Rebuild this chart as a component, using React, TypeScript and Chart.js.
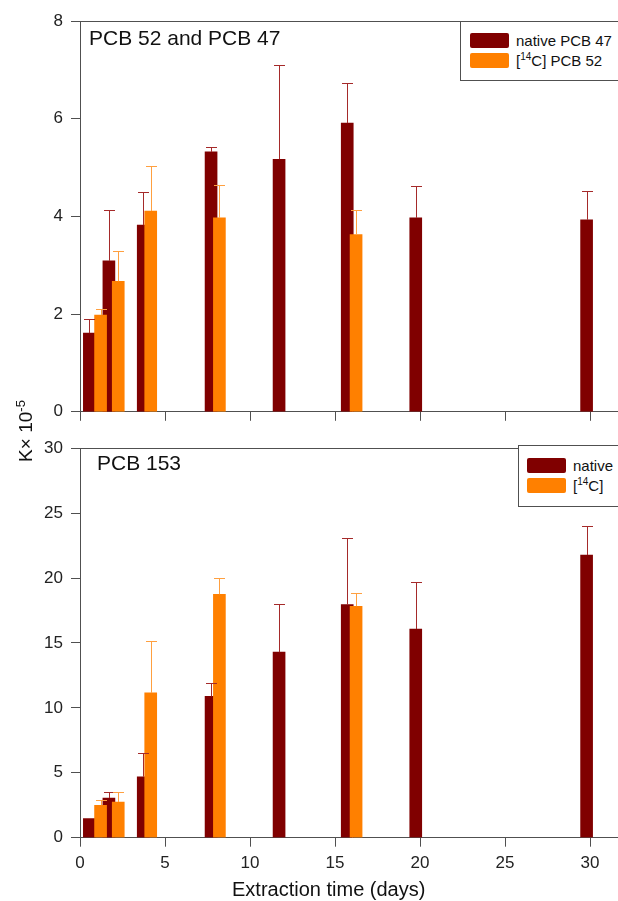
import React, { useEffect, useRef } from "react";
import { Chart, registerables } from "chart.js";

Chart.register(...registerables);

// ---- Data (days, K x 10^-5) ----
const nativeDays = [0.55, 1.7, 3.72, 7.71, 11.71, 15.72, 19.75, 29.8];
const labeledDays = [1.21, 2.25, 4.16, 8.2, 16.24];

const pcb47Native = [1.61, 3.09, 3.82, 5.32, 5.17, 5.91, 3.97, 3.93];
const pcb47NativeErr = [0.29, 1.04, 0.68, 0.1, 1.92, 0.82, 0.65, 0.58];
const pcb52Labeled = [1.98, 2.67, 4.11, 3.97, 3.63];
const pcb52LabeledErr = [0.13, 0.62, 0.93, 0.68, 0.5];

const pcb153Native = [1.48, 3.06, 4.69, 10.88, 14.29, 17.95, 16.07, 21.77];
const pcb153NativeErr = [0, 0.45, 1.86, 1.04, 3.69, 5.17, 3.62, 2.22];
const pcb153Labeled = [2.5, 2.75, 11.15, 18.75, 17.83];
const pcb153LabeledErr = [0.43, 0.76, 3.98, 1.24, 1.02];

const xTickStep = 5;
const topYMax = 8;
const topYStep = 2;
const botYMax = 30;
const botYStep = 5;

const DARK = "#800000";
const ORANGE = "#ff8000";
const DARK_ERR = "#a52a2a";
const ORANGE_ERR = "#ffa040";
const AXIS = "#505050";
const FONT = "Arial, 'Liberation Sans', sans-serif";

const toPoints = (xs: number[], ys: number[]) => xs.map((x, i) => ({ x, y: ys[i] }));

const errorBarPlugin = {
  id: "errorBars",
  afterDatasetsDraw(chart: any) {
    const ctx = chart.ctx;
    const yScale = chart.scales.y;
    chart.data.datasets.forEach((ds: any, di: number) => {
      const meta = chart.getDatasetMeta(di);
      if (!ds.errors) return;
      ctx.save();
      ctx.strokeStyle = ds.errorColor;
      ctx.lineWidth = 1;
      meta.data.forEach((el: any, i: number) => {
        const err = ds.errors[i];
        if (!err) return;
        const v = ds.data[i].y;
        const yTop = yScale.getPixelForValue(v + err);
        const x = Math.round(el.x) + 0.5;
        ctx.beginPath();
        ctx.moveTo(x, el.y);
        ctx.lineTo(x, Math.round(yTop) + 0.5);
        ctx.moveTo(x - 5.5, Math.round(yTop) + 0.5);
        ctx.lineTo(x + 5.5, Math.round(yTop) + 0.5);
        ctx.stroke();
      });
      ctx.restore();
    });
  },
};

const framePlugin = {
  id: "frameTop",
  afterDraw(chart: any) {
    const { ctx, chartArea } = chart;
    ctx.save();
    ctx.strokeStyle = AXIS;
    ctx.lineWidth = 1;
    ctx.beginPath();
    const y = Math.round(chartArea.top) + 0.5;
    ctx.moveTo(chartArea.left, y);
    ctx.lineTo(chartArea.right, y);
    ctx.lineTo(chartArea.right, chartArea.bottom);
    ctx.stroke();
    ctx.restore();
  },
};

function makeChart(
  canvas: HTMLCanvasElement,
  nat: number[],
  natErr: number[],
  lab: number[],
  labErr: number[],
  yMax: number,
  yStep: number,
  padTop: number,
  xAxisHeight: number,
  showXLabels: boolean
) {
  return new Chart(canvas, {
    type: "bar",
    data: {
      datasets: [
        {
          label: "native",
          data: toPoints(nativeDays, nat),
          backgroundColor: DARK,
          borderWidth: 0,
          order: 1,
          errors: natErr,
          errorColor: DARK_ERR,
        } as any,
        {
          label: "[14C]",
          data: toPoints(labeledDays, lab),
          backgroundColor: ORANGE,
          borderWidth: 0,
          order: 0,
          errors: labErr,
          errorColor: ORANGE_ERR,
        } as any,
      ],
    },
    options: {
      animation: false,
      responsive: false,
      devicePixelRatio: 1,
      layout: { padding: { top: padTop, right: 16, left: 0, bottom: 0 } },
      plugins: { legend: { display: false }, tooltip: { enabled: false } },
      datasets: { bar: { grouped: false, barThickness: 12 } } as any,
      scales: {
        x: {
          type: "linear",
          min: 0,
          max: 32,
          offset: false,
          ticks: {
            stepSize: xTickStep,
            includeBounds: false,
            display: showXLabels,
            color: "#222",
            font: { size: 17, family: FONT },
            padding: 6,
            maxRotation: 0,
          },
          grid: {
            display: true,
            offset: false,
            drawOnChartArea: false,
            drawTicks: true,
            tickLength: 9,
            color: AXIS,
            lineWidth: 1,
          },
          border: { display: true, color: AXIS, width: 1 },
          afterFit: (s: any) => {
            s.height = xAxisHeight;
          },
        } as any,
        y: {
          type: "linear",
          min: 0,
          max: yMax,
          ticks: {
            stepSize: yStep,
            color: "#222",
            font: { size: 17, family: FONT },
            padding: 8,
          },
          grid: {
            display: true,
            drawOnChartArea: false,
            drawTicks: true,
            tickLength: 9,
            color: AXIS,
            lineWidth: 1,
          },
          border: { display: true, color: AXIS, width: 1 },
          afterFit: (s: any) => {
            s.width = 80;
          },
        } as any,
      },
    },
    plugins: [errorBarPlugin, framePlugin],
  } as any);
}

const swatch = (left: number, top: number, color: string): React.CSSProperties => ({
  position: "absolute",
  left,
  top,
  width: 39,
  height: 15,
  background: color,
  borderRadius: 2,
});

const legendText = (left: number, centerY: number): React.CSSProperties => ({
  position: "absolute",
  left,
  top: centerY - 9,
  height: 18,
  lineHeight: "18px",
  fontSize: 15,
  whiteSpace: "nowrap",
  color: "#111",
});

const supStyle: React.CSSProperties = { fontSize: 10, verticalAlign: "super", lineHeight: 0 };

export default function App() {
  const topRef = useRef<HTMLCanvasElement>(null);
  const botRef = useRef<HTMLCanvasElement>(null);

  useEffect(() => {
    const c1 = makeChart(
      topRef.current!,
      pcb47Native,
      pcb47NativeErr,
      pcb52Labeled,
      pcb52LabeledErr,
      topYMax,
      topYStep,
      21,
      16.7,
      false
    );
    const c2 = makeChart(
      botRef.current!,
      pcb153Native,
      pcb153NativeErr,
      pcb153Labeled,
      pcb153LabeledErr,
      botYMax,
      botYStep,
      15,
      63.3,
      true
    );
    return () => {
      c1.destroy();
      c2.destroy();
    };
  }, []);

  return (
    <div
      style={{
        position: "absolute",
        left: 0,
        top: 0,
        width: 618,
        height: 901,
        overflow: "hidden",
        background: "#fff",
        fontFamily: FONT,
        color: "#111",
      }}
    >
      <canvas ref={topRef} width={640} height={430} style={{ position: "absolute", left: 0, top: 0 }} />
      <canvas ref={botRef} width={640} height={471} style={{ position: "absolute", left: 0, top: 430 }} />

      {/* panel titles */}
      <div style={{ position: "absolute", left: 89, top: 26.5, fontSize: 21, lineHeight: "21px", whiteSpace: "nowrap" }}>
        PCB 52 and PCB 47
      </div>
      <div style={{ position: "absolute", left: 97, top: 451.5, fontSize: 21, lineHeight: "21px", whiteSpace: "nowrap" }}>
        PCB 153
      </div>

      {/* top legend */}
      <div
        style={{
          position: "absolute",
          left: 460,
          top: 21,
          width: 200,
          height: 58,
          border: `1px solid ${AXIS}`,
          background: "#fff",
        }}
      />
      <div style={swatch(470, 33, DARK)} />
      <div style={swatch(470, 53, ORANGE)} />
      <div style={legendText(516, 40.5)}>native PCB 47</div>
      <div style={legendText(516, 60.5)}>
        [<sup style={supStyle}>14</sup>C] PCB 52
      </div>

      {/* bottom legend */}
      <div
        style={{
          position: "absolute",
          left: 518,
          top: 445,
          width: 200,
          height: 60,
          border: `1px solid ${AXIS}`,
          background: "#fff",
        }}
      />
      <div style={swatch(527, 458, DARK)} />
      <div style={swatch(527, 478, ORANGE)} />
      <div style={legendText(573, 465.5)}>native</div>
      <div style={legendText(573, 485.5)}>
        [<sup style={supStyle}>14</sup>C]
      </div>

      {/* axis titles */}
      <div
        style={{
          position: "absolute",
          left: 26,
          top: 431,
          transform: "translate(-50%, -50%) rotate(-90deg)",
          fontSize: 19,
          lineHeight: "22px",
          whiteSpace: "nowrap",
        }}
      >
        K× 10<sup style={{ fontSize: 13, verticalAlign: "super", lineHeight: 0 }}>-5</sup>
      </div>
      <div style={{ position: "absolute", left: 232, top: 879, fontSize: 20, lineHeight: "20px", whiteSpace: "nowrap" }}>
        Extraction time (days)
      </div>
    </div>
  );
}
